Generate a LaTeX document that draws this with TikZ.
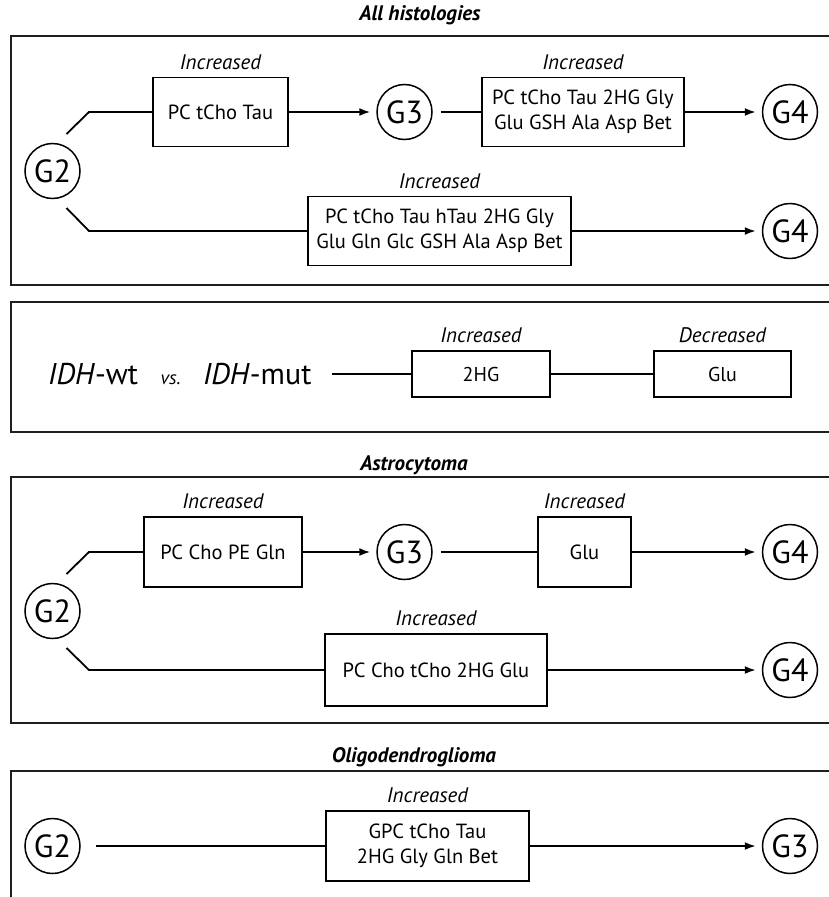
\documentclass[tikz,border=0pt]{standalone}
\usepackage{fontspec}
\setmainfont{PT Sans}
\usetikzlibrary{arrows.meta,positioning}

\tikzset{
  panel/.style={draw=black!88, line width=2pt},
  grade/.style={draw, circle, minimum size=55pt, inner sep=0pt, line width=1.5pt,
    font=\fontsize{32}{34}\selectfont},
  metab/.style={draw, line width=1.8pt, align=center, inner sep=0pt, minimum height=69pt,
    font=\fontsize{20.5}{25}\selectfont},
  change/.style={inner sep=1pt, font=\fontsize{21}{22}\selectfont\itshape},
  heading/.style={font=\fontsize{21}{22}\selectfont\bfseries\itshape},
  link/.style={line width=1.8pt},
  pointer/.style={link, -{Latex[length=11pt,width=8pt]}, shorten >=6pt}
}

\begin{document}
\begin{tikzpicture}[x=1pt, y=-1pt]
\useasboundingbox (0,0) rectangle (829,897);
\clip (0,0) rectangle (829,897);

% all histologies
\node[heading] (hdA) at (420,15) {All histologies};
\draw[panel] (11,36) rectangle (850,285);
\node[grade] (g2A) at (52.5,171) {G2};
\node[metab, minimum width=135pt] (mA1) at (220.5,112) {PC tCho Tau};
\node[change, above=6pt of mA1] (cA1) {Increased};
\node[grade] (g3A) at (404.5,112) {G3};
\node[metab, minimum width=202pt] (mA2) at (583,112) {PC tCho Tau 2HG Gly\\Glu GSH Ala Asp Bet};
\node[change, above=6pt of mA2] (cA2) {Increased};
\node[grade] (g4A) at (790,112) {G4};
\node[metab, minimum width=263pt] (mA3) at (439.5,231) {PC tCho Tau hTau 2HG Gly\\Glu Gln Glc GSH Ala Asp Bet};
\node[change, above=6pt of mA3] (cA3) {Increased};
\node[grade] (g4B) at (790,231) {G4};
\coordinate (kA1) at (66.5,134);
\coordinate (kA2) at (89,112);
\coordinate (kA3) at (66.5,208);
\coordinate (kA4) at (89,231);
\draw[link] (kA1) -- (kA2) -- (mA1);
\draw[pointer] (mA1) -- (g3A);
\draw[link, shorten <=8pt] (g3A) -- (mA2);
\draw[pointer] (mA2) -- (g4A);
\draw[link] (kA3) -- (kA4) -- (mA3);
\draw[pointer] (mA3) -- (g4B);

% IDH status
\draw[panel] (11,302) rectangle (850,432);
\node[anchor=base west, inner sep=0pt, font=\fontsize{30}{32}\selectfont] (wt) at (48,384) {\textit{IDH}-wt};
\node[base right=22pt of wt, inner sep=0pt, font=\fontsize{19}{20}\selectfont\itshape] (vs) {vs.};
\node[base right=22pt of vs, inner sep=0pt, font=\fontsize{30}{32}\selectfont] (mut) {\textit{IDH}-mut};
\node[metab, minimum width=138pt, minimum height=46pt, font=\fontsize{20}{22}\selectfont] (mB1) at (481,374) {2HG};
\node[change, above=6pt of mB1] (cB1) {Increased};
\node[metab, minimum width=137pt, minimum height=46pt, font=\fontsize{20}{22}\selectfont] (mB2) at (722.5,374) {Glu};
\node[change, above=6pt of mB2] (cB2) {Decreased};
\draw[link, shorten <=20pt] (mut.east |- mB1) -- (mB1);
\draw[link] (mB1) -- (mB2);

% astrocytoma
\node[heading] (hdC) at (414,465) {Astrocytoma};
\draw[panel] (11,477) rectangle (850,723);
\node[grade] (g2C) at (52.5,611) {G2};
\node[metab, minimum width=158pt, minimum height=70pt] (mC1) at (223,552) {PC Cho PE Gln};
\node[change, above=6pt of mC1] (cC1) {Increased};
\node[grade] (g3C) at (404.5,552) {G3};
\node[metab, minimum width=93pt, minimum height=70pt] (mC2) at (584.5,552) {Glu};
\node[change, above=6pt of mC2] (cC2) {Increased};
\node[grade] (g4C) at (790,552) {G4};
\node[metab, minimum width=222pt, minimum height=72pt] (mC3) at (436,670) {PC Cho tCho 2HG Glu};
\node[change, above=6pt of mC3] (cC3) {Increased};
\node[grade] (g4D) at (790,670) {G4};
\coordinate (kC1) at (66.5,574);
\coordinate (kC2) at (89,552);
\coordinate (kC3) at (66.5,648);
\coordinate (kC4) at (89,670);
\draw[link] (kC1) -- (kC2) -- (mC1);
\draw[pointer] (mC1) -- (g3C);
\draw[link, shorten <=8pt] (g3C) -- (mC2);
\draw[pointer] (mC2) -- (g4C);
\draw[link] (kC3) -- (kC4) -- (mC3);
\draw[pointer] (mC3) -- (g4D);

% oligodendroglioma
\node[heading] (hdD) at (414,757) {Oligodendroglioma};
\draw[panel] (11,771) rectangle (850,930);
\node[grade] (g2D) at (52.5,846) {G2};
\node[metab, minimum width=203pt, minimum height=70pt] (mD1) at (427.5,846) {GPC tCho Tau\\2HG Gly Gln Bet};
\node[change, above=6pt of mD1] (cD1) {Increased};
\node[grade] (g3D) at (790,846) {G3};
\draw[link, shorten <=15pt] (g2D) -- (mD1);
\draw[pointer] (mD1) -- (g3D);
\end{tikzpicture}
\end{document}
